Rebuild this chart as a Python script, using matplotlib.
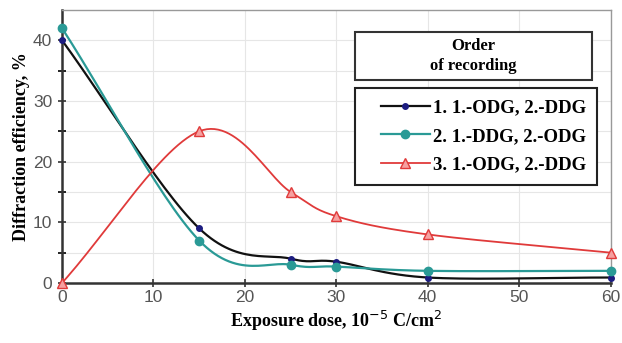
import numpy as np
import matplotlib
matplotlib.use('Agg')
import matplotlib.pyplot as plt
from matplotlib.patches import Rectangle

dose = [0, 15, 25, 30, 40, 60]
eff_1 = [40, 9, 4, 3.5, 0.9, 0.9]
eff_2 = [42, 7, 3, 2.7, 2, 2]
eff_3 = [0, 25, 15, 11, 8, 5]
labels = ['1. 1.-ODG, 2.-DDG', '2. 1.-DDG, 2.-ODG', '3. 1.-ODG, 2.-DDG']


def smooth(x, y, n=30):
    # catmull-rom through the points, like excel's smoothed line
    x = np.asarray(x, float)
    y = np.asarray(y, float)
    px = np.concatenate([[2 * x[0] - x[1]], x, [2 * x[-1] - x[-2]]])
    py = np.concatenate([[2 * y[0] - y[1]], y, [2 * y[-1] - y[-2]]])
    xs, ys = [], []
    t = np.linspace(0, 1, n)
    for i in range(1, len(px) - 2):
        for p, out in ((px, xs), (py, ys)):
            p0, p1, p2, p3 = p[i - 1], p[i], p[i + 1], p[i + 2]
            out.extend(0.5 * (2 * p1 + (-p0 + p2) * t
                              + (2 * p0 - 5 * p1 + 4 * p2 - p3) * t ** 2
                              + (-p0 + 3 * p1 - 3 * p2 + p3) * t ** 3))
    return xs, ys


plt.rcParams['font.family'] = ['Liberation Sans', 'DejaVu Sans']
fig = plt.figure(figsize=(6.22, 3.43), dpi=100)
ax = fig.add_axes([0.0997, 0.175, 0.882, 0.796])

serif = 'Liberation Serif'

x1, y1 = smooth(dose, eff_1)
x2, y2 = smooth(dose, eff_2)
x3, y3 = smooth(dose, eff_3)
ax.plot(x1, y1, color='#111111', lw=1.6, zorder=3)
ax.plot(dose, eff_1, 'o', color='#1c1c80', ms=4, zorder=4, clip_on=False)
ax.plot(x2, y2, color='#2a9a96', lw=1.6, zorder=3)
ax.plot(dose, eff_2, 'o', color='#2a9a96', ms=6, zorder=4, clip_on=False)
ax.plot(x3, y3, color='#e03a3a', lw=1.3, zorder=3)
ax.plot(dose, eff_3, '^', color='#e03a3a', mfc='#f6a0a0', mec='#e03a3a', ms=7, zorder=4, clip_on=False)

ax.set_xlim(0, 60)
ax.set_ylim(0, 45)
ax.set_xticks(range(0, 61, 10))
ax.set_yticks(range(0, 41, 10))
ax.set_yticks(range(5, 45, 10), minor=True)
ax.grid(True, which='both', color='#e6e6e6', lw=0.8)
ax.set_axisbelow(True)
ax.tick_params(axis='both', labelsize=12.5, labelcolor='#555555', color='#333333')
ax.tick_params(axis='x', direction='inout', length=6, width=1.2, pad=2)
ax.tick_params(axis='y', which='both', direction='inout', length=6, width=1.2, pad=4)
for s in ['top', 'right']:
    ax.spines[s].set_color('#999999')
    ax.spines[s].set_linewidth(1.0)
for s in ['left', 'bottom']:
    ax.spines[s].set_color('#333333')
    ax.spines[s].set_linewidth(1.8)

ax.set_xlabel('Exposure dose, 10$^{-5}$ C/cm$^2$', family=serif, weight='bold', fontsize=13, labelpad=3)
ax.set_ylabel('Diffraction efficiency, %', family=serif, weight='bold', fontsize=13, labelpad=2)

# title box of the legend
ax.add_patch(Rectangle((0.534, 0.744), 0.432, 0.175, transform=ax.transAxes,
                       fc='white', ec='#333333', lw=1.5, zorder=5))
ax.text(0.75, 0.832, 'Order\nof recording', transform=ax.transAxes, ha='center', va='center',
        family=serif, weight='bold', fontsize=12, linespacing=1.3, zorder=6)

# frame of the legend drawn separately so it can be wider than the entries
ax.add_patch(Rectangle((0.534, 0.359), 0.441, 0.355, transform=ax.transAxes,
                       fc='white', ec='#222222', lw=1.5, zorder=5))
h1, = ax.plot([], [], color='#111111', lw=1.6, marker='o', mfc='#1c1c80', mec='#1c1c80', ms=4)
h2, = ax.plot([], [], color='#2a9a96', lw=1.6, marker='o', ms=6)
h3, = ax.plot([], [], color='#e03a3a', lw=1.3, marker='^', mfc='#f6a0a0', mec='#e03a3a', ms=7)
leg = ax.legend([h1, h2, h3], labels, loc='center right', bbox_to_anchor=(0.955, 0.5365),
                frameon=False, borderaxespad=0, borderpad=0,
                prop={'family': serif, 'weight': 'bold', 'size': 13.5},
                handlelength=2.6, handletextpad=0.15, labelspacing=0.6)
leg.set_zorder(6)

fig.savefig('out.png', dpi=100)
